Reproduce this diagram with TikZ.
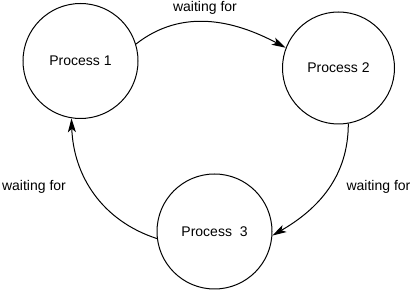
\documentclass[tikz,border=0pt]{standalone}
\usepackage{fontspec}
\setmainfont{Liberation Sans}
\usetikzlibrary{arrows.meta}
\begin{document}
\begin{tikzpicture}[x=1pt,y=-1pt,
  proc/.style={draw,circle,line width=1pt,inner sep=0pt,font=\fontsize{14}{16}\selectfont},
  lbl/.style={inner sep=0pt,font=\fontsize{14}{16}\selectfont},
  conn/.style={line width=1pt,-{Stealth[length=14pt,width=8pt,inset=3.5pt]}}]
\useasboundingbox (0,0) rectangle (413,291);
\node[proc,minimum size=115pt] (p1) at (80.5,61) {Process 1};
\node[proc,minimum size=112pt] (p2) at (338.5,68) {Process 2};
\node[proc,minimum size=115pt] (p3) at (214.5,231.5) {Process~~3};
\node[lbl] (l1) at (205,8) {waiting for};
\node[lbl] (l2) at (378.5,187) {waiting for};
\node[lbl] (l3) at (34,187) {waiting for};
\draw[conn] (p1.17) to[out=38,in=152] (p2.159);
\draw[conn] (p2.-80) to[out=-90,in=30] (p3.-4);
\draw[conn] (p3.187) to[out=162,in=-88] (p1.-99);
\end{tikzpicture}
\end{document}
